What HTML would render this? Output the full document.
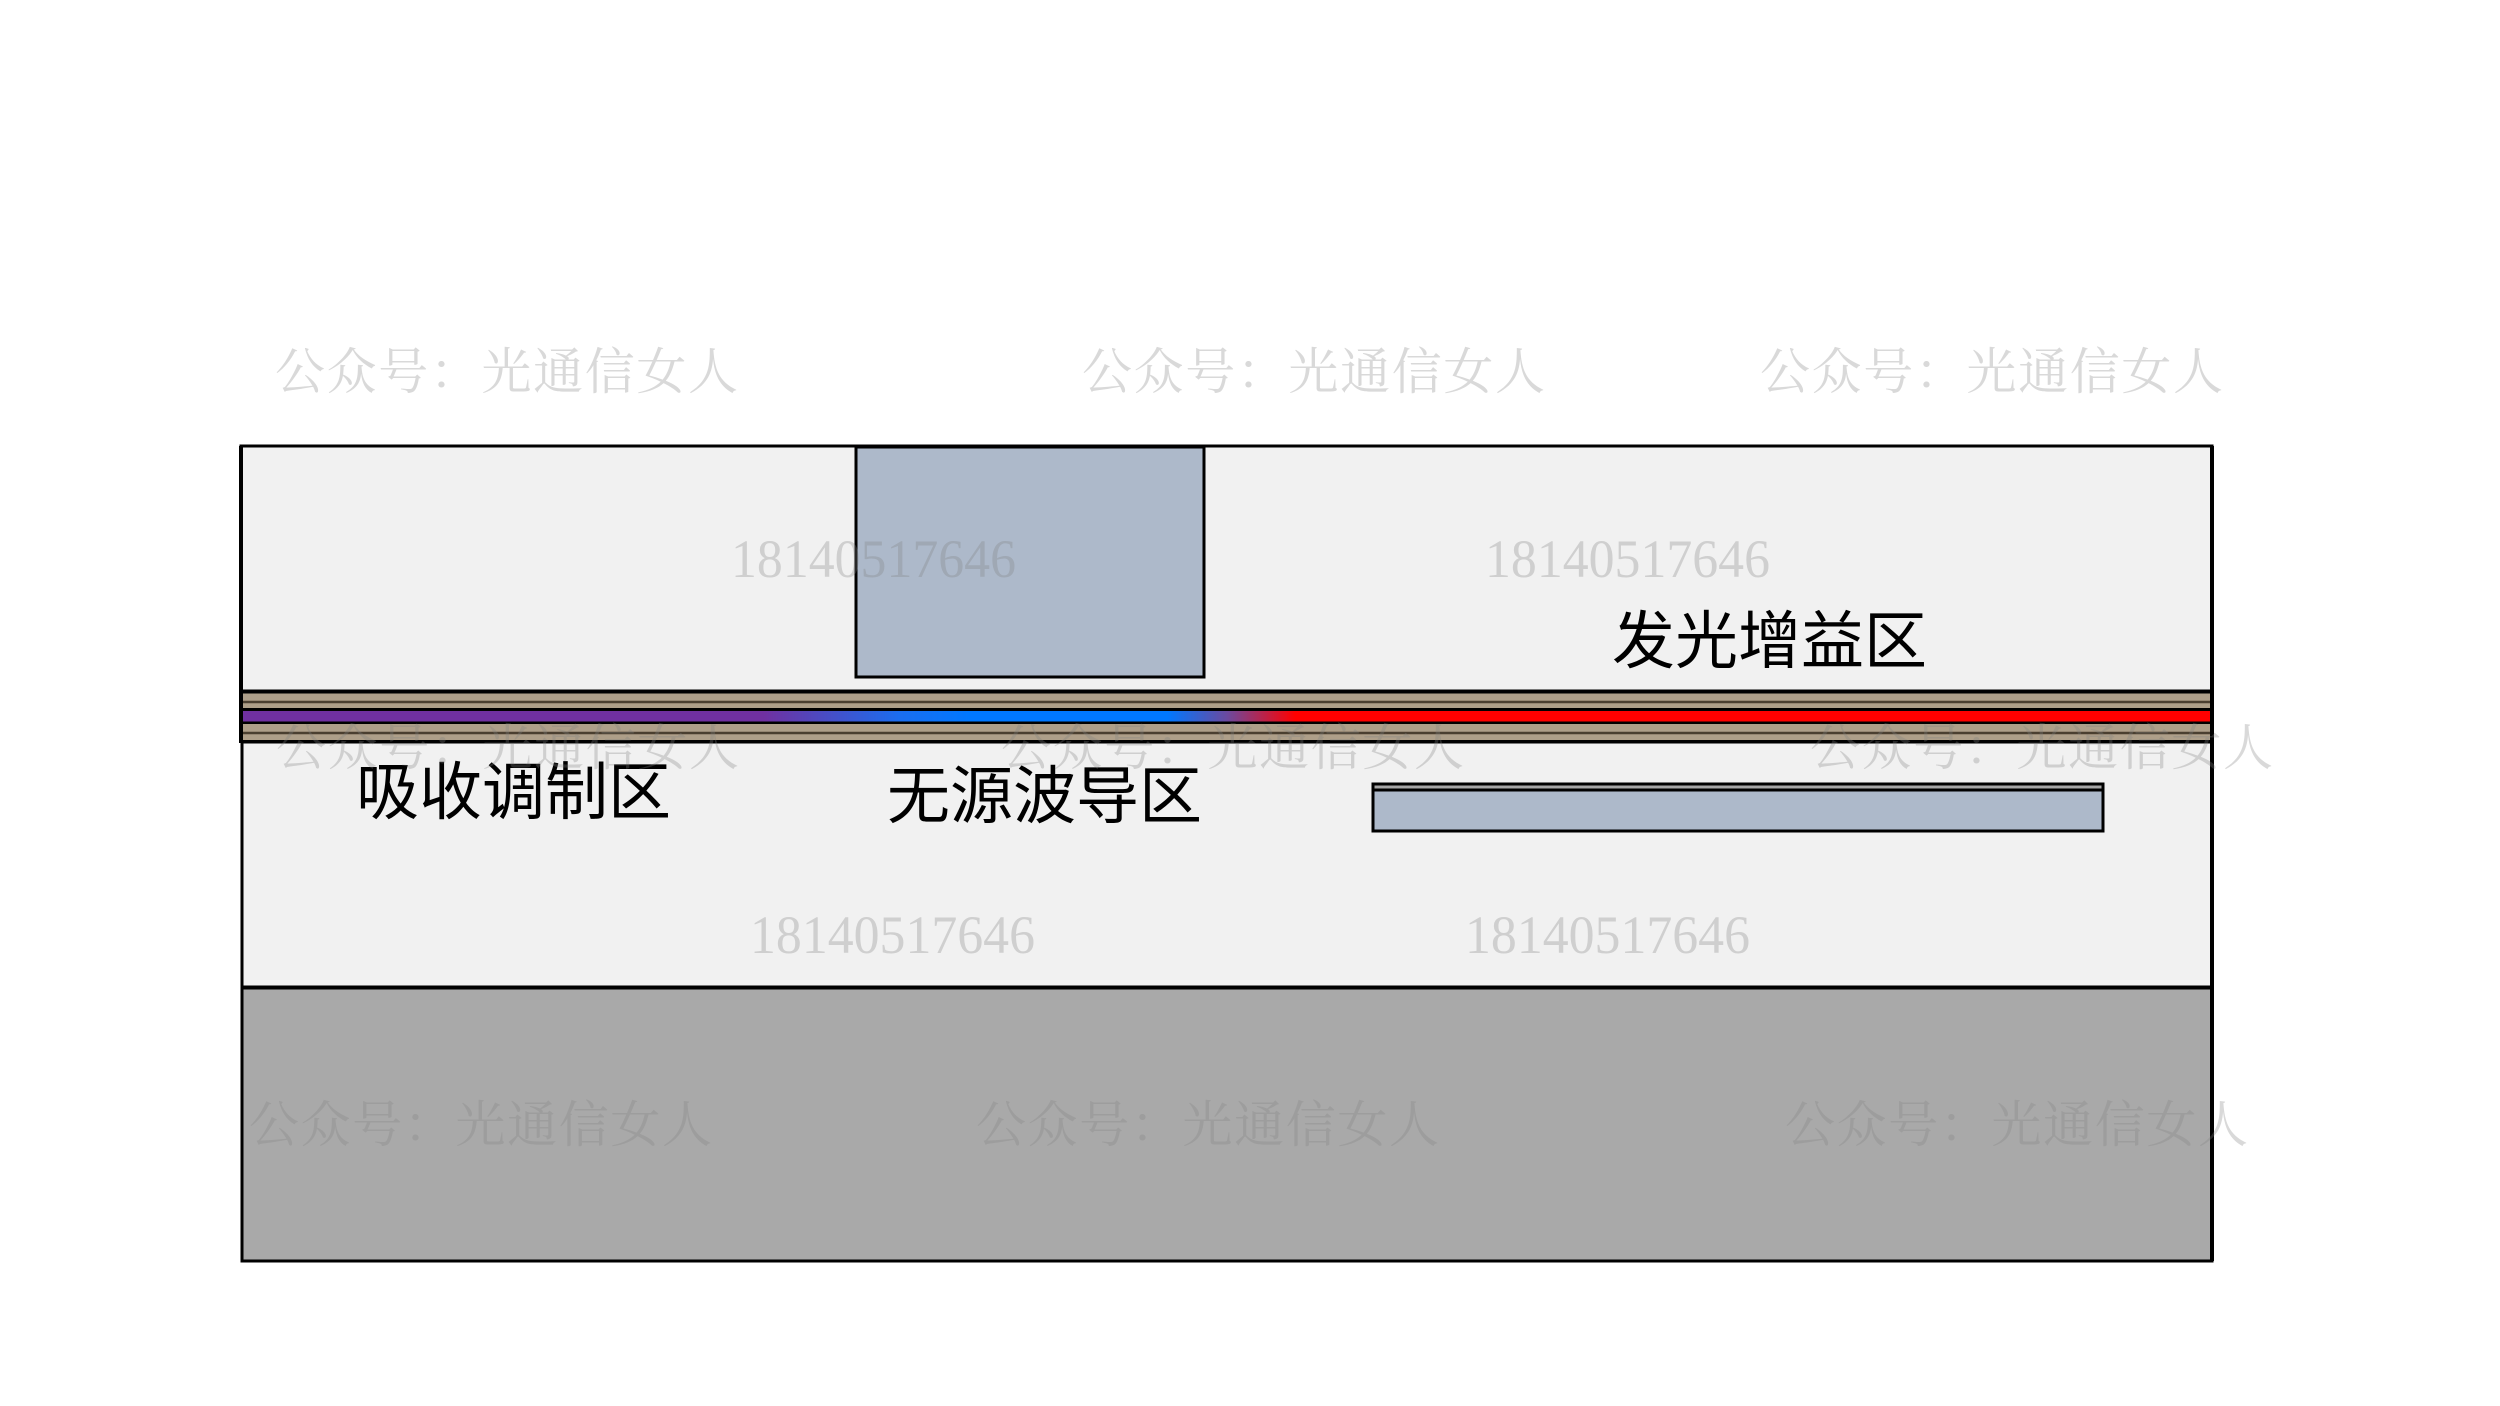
<!DOCTYPE html>
<html><head><meta charset="utf-8"><style>html,body{margin:0;padding:0;background:#fff;}svg{display:block}</style></head>
<body>
<svg width="2500" height="1406" viewBox="0 0 2500 1406" xmlns="http://www.w3.org/2000/svg">
<defs>
<linearGradient id="g" x1="241" y1="0" x2="2212" y2="0" gradientUnits="userSpaceOnUse">
<stop offset="0" stop-color="#7030a0"/>
<stop offset="0.265" stop-color="#7030a0"/>
<stop offset="0.335" stop-color="#1a6ef0"/>
<stop offset="0.37" stop-color="#0078ff"/>
<stop offset="0.47" stop-color="#0078ff"/>
<stop offset="0.5" stop-color="#6a4aa0"/>
<stop offset="0.535" stop-color="#ff0000"/>
<stop offset="1" stop-color="#ff0000"/>
</linearGradient>
</defs>
<rect x="241" y="446" width="1971" height="245" fill="#f1f1f1" stroke="#000" stroke-width="3"/>
<rect x="865" y="447" width="348" height="230" fill="#adb9ca" stroke="#000" stroke-width="3" transform="translate(-9,0)"/>
<rect x="242" y="742" width="1970" height="245" fill="#f1f1f1" stroke="#000" stroke-width="3"/>
<rect x="242" y="988" width="1970" height="273" fill="#a9a9a9" stroke="#000" stroke-width="3"/>
<rect x="241" y="692" width="1971" height="17" fill="#ae9f89"/>
<line x1="241" y1="702" x2="2212" y2="702" stroke="#4a3f30" stroke-width="2.5"/>
<line x1="241" y1="692" x2="2212" y2="692" stroke="#000" stroke-width="3"/>
<rect x="241" y="711" width="1971" height="11" fill="url(#g)"/>
<line x1="241" y1="709.5" x2="2212" y2="709.5" stroke="#000" stroke-width="3"/>
<line x1="241" y1="723" x2="2212" y2="723" stroke="#000" stroke-width="3"/>
<rect x="241" y="724" width="1971" height="17" fill="#ae9f89"/>
<line x1="241" y1="733" x2="2212" y2="733" stroke="#4a3f30" stroke-width="2.5"/>
<line x1="241" y1="741.5" x2="2212" y2="741.5" stroke="#000" stroke-width="3"/>
<line x1="241" y1="446" x2="241" y2="743" stroke="#000" stroke-width="4"/>
<line x1="2212" y1="446" x2="2212" y2="1261" stroke="#000" stroke-width="4"/>
<rect x="1373" y="784" width="730" height="47" fill="#adb9ca" stroke="#000" stroke-width="3"/>
<rect x="1373" y="784" width="730" height="6" fill="#a6a6a6" stroke="#000" stroke-width="3"/>
<g font-family="'Liberation Sans','Noto Sans CJK SC',sans-serif" font-size="63" fill="#000">
<text x="356" y="814">吸收调制区</text>
<text x="887" y="818">无源波导区</text>
<text x="1612" y="663">发光增益区</text>
</g>
<g font-family="'Liberation Serif','Noto Serif CJK SC',serif" font-size="50" fill="rgba(128,128,128,0.3)">
<text x="275" y="389" textLength="463">公众号：光通信女人</text>
<text x="1082" y="389" textLength="463">公众号：光通信女人</text>
<text x="1760" y="389" textLength="463">公众号：光通信女人</text>
<text x="276" y="765" textLength="463">公众号：光通信女人</text>
<text x="1001" y="765" textLength="463">公众号：光通信女人</text>
<text x="1810" y="765" textLength="463">公众号：光通信女人</text>
<text x="249" y="1142" textLength="463">公众号：光通信女人</text>
<text x="976" y="1142" textLength="463">公众号：光通信女人</text>
<text x="1785" y="1142" textLength="463">公众号：光通信女人</text>
</g>
<g font-family="'Liberation Serif',serif" font-size="54" fill="rgba(128,128,128,0.3)">
<text x="731" y="577" textLength="285" lengthAdjust="spacingAndGlyphs">18140517646</text>
<text x="1485" y="577" textLength="285" lengthAdjust="spacingAndGlyphs">18140517646</text>
<text x="750" y="953" textLength="285" lengthAdjust="spacingAndGlyphs">18140517646</text>
<text x="1465" y="953" textLength="285" lengthAdjust="spacingAndGlyphs">18140517646</text>
</g>
</svg>
</body></html>
